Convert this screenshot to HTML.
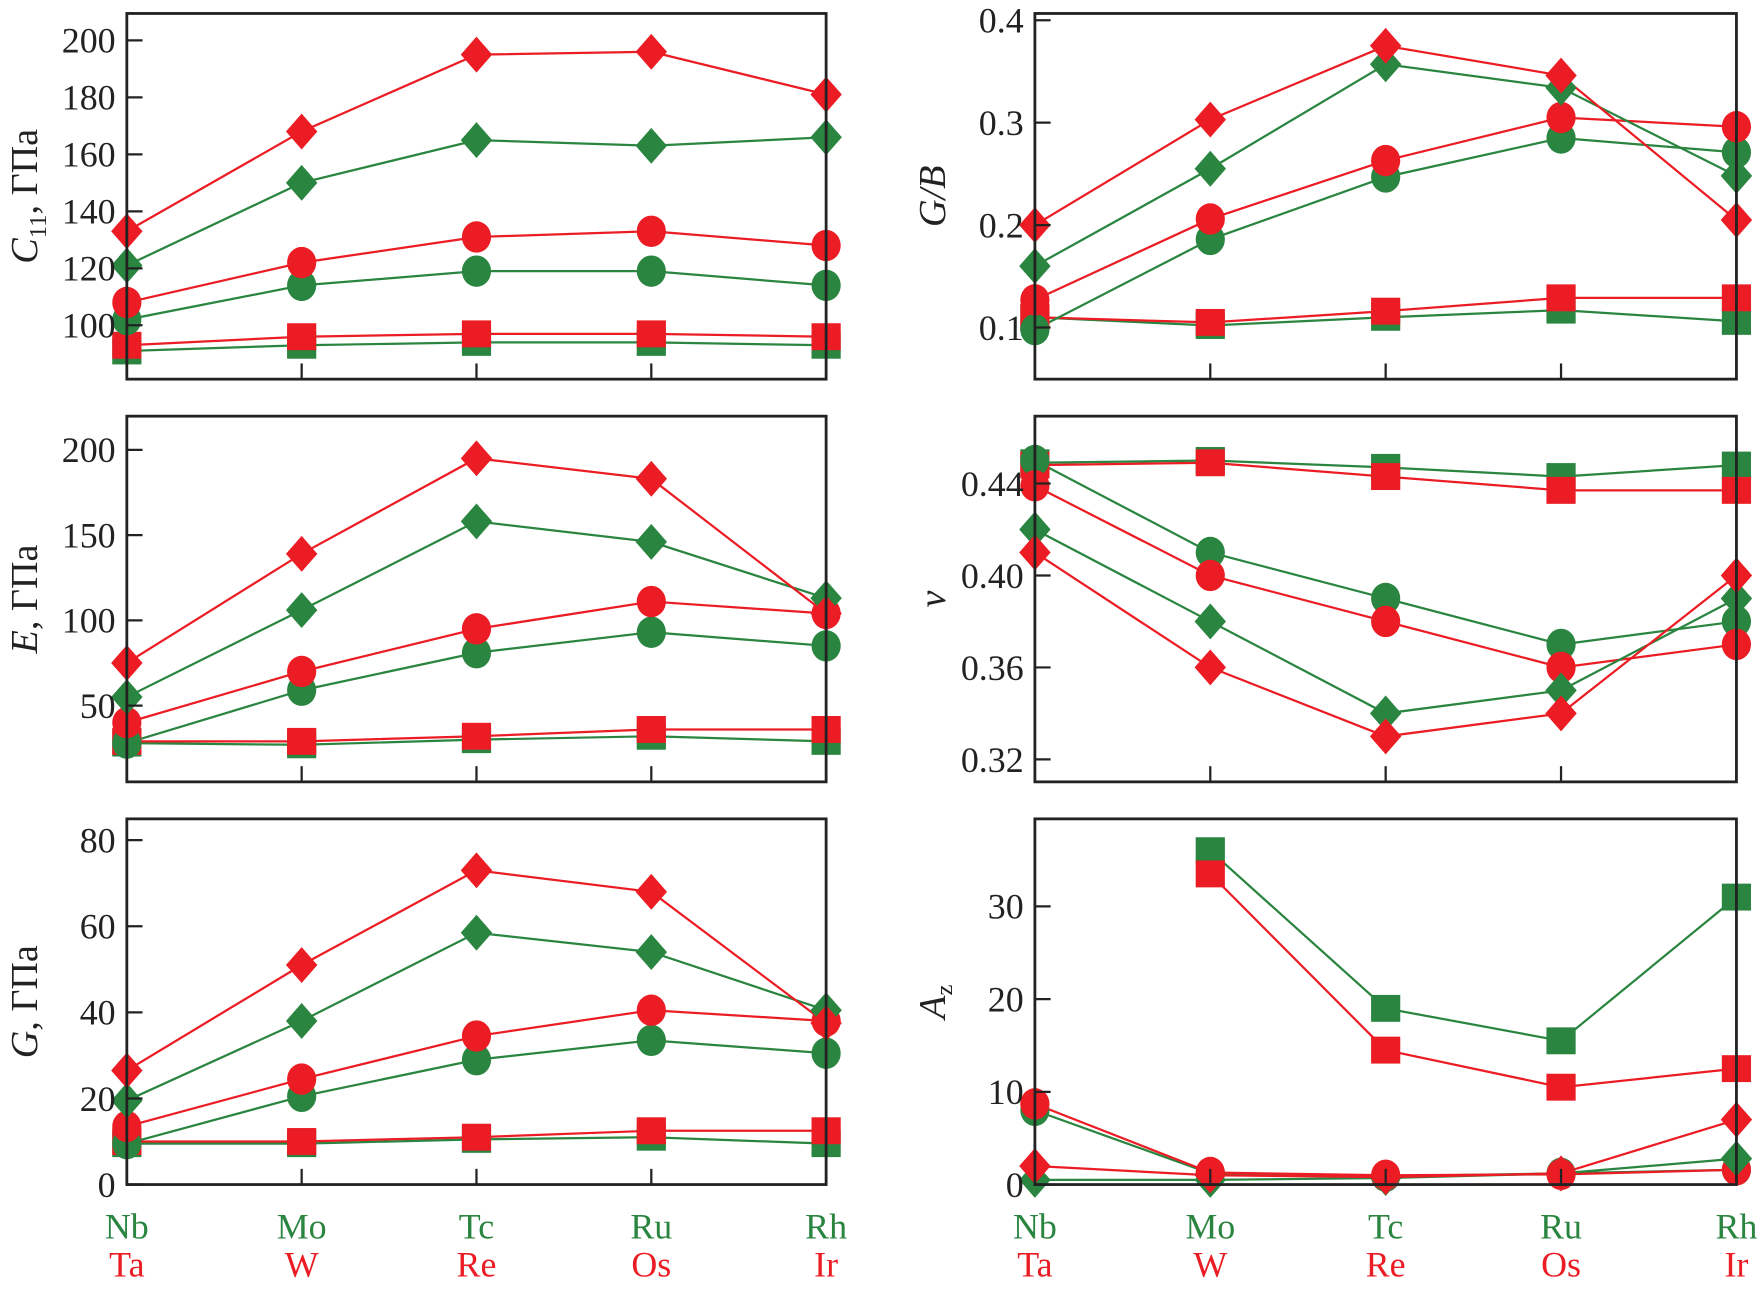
<!DOCTYPE html>
<html><head><meta charset="utf-8"><style>
html,body{margin:0;padding:0;background:#fff;}
svg{display:block;}
text{font-family:"Liberation Serif",serif;}
</style></head><body>
<svg id="chart" width="1760" height="1290" viewBox="0 0 1568 1150" preserveAspectRatio="none" xmlns="http://www.w3.org/2000/svg"></svg>
<script>
const topRow=["Nb","Mo","Tc","Ru","Rh"];
const botRow=["Ta","W","Re","Os","Ir"];
// C11
const c11RedDia=[133,168,195,196,181], c11GrnDia=[121,150,165,163,166];
const c11RedCir=[108,122,131,133,128], c11GrnCir=[102,114,119,119,114];
const c11RedSq=[93,96,97,97,96], c11GrnSq=[91,93,94,94,93];
const c11Ticks=[100,120,140,160,180,200];
// G/B
const gbRedDia=[0.20,0.303,0.375,0.346,0.205], gbGrnDia=[0.16,0.255,0.357,0.334,0.248];
const gbRedCir=[0.127,0.206,0.263,0.305,0.296], gbGrnCir=[0.098,0.186,0.247,0.285,0.271];
const gbRedSq=[0.110,0.105,0.116,0.129,0.129], gbGrnSq=[0.110,0.102,0.110,0.117,0.106];
const gbTicks=[0.1,0.2,0.3,0.4];
// E
const eRedDia=[75,139,195,183,104], eGrnDia=[55,106,158,146,113];
const eRedCir=[40,70,95,111,104], eGrnCir=[28,59,81,93,85];
const eRedSq=[29,29,32,36,36], eGrnSq=[28,27,30,32,29];
const eTicks=[50,100,150,200];
// nu
const nuRedDia=[0.410,0.360,0.330,0.340,0.400], nuGrnDia=[0.420,0.380,0.340,0.350,0.390];
const nuRedCir=[0.439,0.400,0.380,0.360,0.370], nuGrnCir=[0.450,0.410,0.390,0.370,0.380];
const nuRedSq=[0.448,0.449,0.443,0.437,0.437], nuGrnSq=[0.449,0.450,0.447,0.443,0.448];
const nuTicks=[0.32,0.36,0.40,0.44];
// G
const gRedDia=[26.5,51,73,68,37.5], gGrnDia=[19.5,38,58.5,54,40.5];
const gRedCir=[13.5,24.5,34.5,40.5,38], gGrnCir=[9.5,20.5,29,33.5,30.5];
const gRedSq=[10,10,11,12.5,12.5], gGrnSq=[9.5,9.5,10.5,11,9.5];
const gTicks=[0,20,40,60,80];
// Az
const azRedDia=[2,1,0.8,1.2,7], azGrnDia=[0.5,0.5,0.7,1.2,2.8];
const azRedCir=[8.7,1.3,1.0,1.1,1.6], azGrnCir=[8,1.2,0.9,1.2,1.6];
const azRedSq=[null,33.5,14.5,10.5,12.5], azGrnSq=[null,36,19,15.5,31];
const azTicks=[0,10,20,30];

const RED="#ec1c24", GRN="#2a8540";
const svg=document.getElementById('chart');
const NS="http://www.w3.org/2000/svg";
function mk(tag,attrs,parent){const e=document.createElementNS(NS,tag);for(const k in attrs)e.setAttribute(k,attrs[k]);(parent||svg).appendChild(e);return e;}

function panel(name,x0,x1,top,bot,v1,p1,v2,p2,ticks,fmt,label,series){
  const g=mk('g',{});
  
  
  const X=i=>x0+(x1-x0)*i/4;
  const Y=v=>p1+(v-v1)*(p2-p1)/(v2-v1);
  series.forEach(s=>{
    const pts=[];s.vals.forEach((v,i)=>{if(v!=null)pts.push([X(i),Y(v)]);});
    const pl=mk('polyline',{points:pts.map(p=>p.join(',')).join(' '),fill:'none',stroke:s.c,'stroke-width':2},g);
    
    
  });
  series.forEach(s=>{
    s.vals.forEach((v,i)=>{
      if(v==null)return;
      const x=X(i),y=Y(v);let m;
      if(s.m==='d')m=mk('polygon',{points:`${x},${y-16} ${x+14},${y} ${x},${y+16} ${x-14},${y}`,fill:s.c},g);
      else if(s.m==='c')m=mk('ellipse',{cx:x,cy:y,rx:13,ry:14,fill:s.c},g);
      else m=mk('rect',{x:x-13,y:y-12,width:26,height:24,fill:s.c},g);
      
      
    });
  });
  const fr=mk('rect',{x:x0,y:top,width:x1-x0,height:bot-top,fill:'none',stroke:'#222','stroke-width':2.5},g);
  
  
  for(let i=1;i<4;i++){mk('line',{x1:X(i),x2:X(i),y1:bot,y2:bot-14,stroke:'#222','stroke-width':2},g);}
  ticks.forEach(t=>{
    const y=Y(t);
    mk('line',{x1:x0,x2:x0+14,y1:y,y2:y,stroke:'#222','stroke-width':2},g);
    const tx=mk('text',{x:x0-10,y:y+11,'text-anchor':'end','font-size':32,fill:'#222'},g);
    tx.textContent=fmt(t);
    
    
  });
  const lb=mk('text',{transform:`translate(${x0-80},${(top+bot)/2}) rotate(-90)`,'text-anchor':'middle','font-size':34,fill:'#222'},g);
  lb.innerHTML=label;
  
  
  return X;
}
function S(rd,gd,rc,gc,rs,gs){return[
  {n:'green-square',vals:gs,c:GRN,m:'s'},{n:'red-square',vals:rs,c:RED,m:'s'},
  {n:'green-circle',vals:gc,c:GRN,m:'c'},{n:'red-circle',vals:rc,c:RED,m:'c'},
  {n:'green-diamond',vals:gd,c:GRN,m:'d'},{n:'red-diamond',vals:rd,c:RED,m:'d'}];}

const L0=113,L1=736,R0=922,R1=1547;
panel('c11',L0,L1,12,338,200,36,100,290,c11Ticks,t=>t,'<tspan font-style="italic">C</tspan><tspan font-size="22" dy="8">11</tspan><tspan dy="-8">, ГПа</tspan>',S(c11RedDia,c11GrnDia,c11RedCir,c11GrnCir,c11RedSq,c11GrnSq));
panel('g-over-b',R0,R1,12,338,0.4,18,0.1,292,gbTicks,t=>t.toFixed(1),'<tspan font-style="italic">G/B</tspan>',S(gbRedDia,gbGrnDia,gbRedCir,gbGrnCir,gbRedSq,gbGrnSq));
panel('young-modulus',L0,L1,371,697,200,401,50,629,eTicks,t=>t,'<tspan font-style="italic">E</tspan>, ГПа',S(eRedDia,eGrnDia,eRedCir,eGrnCir,eRedSq,eGrnSq));
panel('poisson',R0,R1,371,697,0.44,431,0.32,677,nuTicks,t=>t.toFixed(2),'<tspan font-style="italic">ν</tspan>',S(nuRedDia,nuGrnDia,nuRedCir,nuGrnCir,nuRedSq,nuGrnSq));
const XL=panel('shear-modulus',L0,L1,730,1056,80,749,0,1056,gTicks,t=>t,'<tspan font-style="italic">G</tspan>, ГПа',S(gRedDia,gGrnDia,gRedCir,gGrnCir,gRedSq,gGrnSq));
const XR=panel('anisotropy',R0,R1,730,1056,30,808,0,1056,azTicks,t=>t,'<tspan font-style="italic">A</tspan><tspan font-size="22" dy="6">z</tspan>',S(azRedDia,azGrnDia,azRedCir,azGrnCir,azRedSq,azGrnSq));

[XL,XR].forEach((X,k)=>{
  topRow.forEach((s,i)=>{
    const t=mk('text',{x:X(i),y:1104,'text-anchor':'middle','font-size':32,fill:GRN});
    t.textContent=s;
    
    
  });
  botRow.forEach((s,i)=>{
    const t=mk('text',{x:X(i),y:1138,'text-anchor':'middle','font-size':32,fill:RED});
    t.textContent=s;
    
    
  });
});
</script>
</body></html>
